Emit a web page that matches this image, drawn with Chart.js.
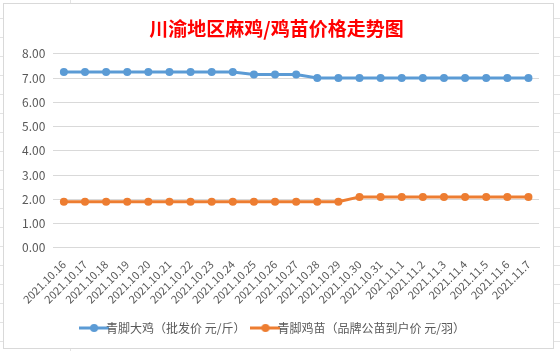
<!DOCTYPE html>
<html>
<head>
<meta charset="utf-8">
<script src="https://cdn.jsdelivr.net/npm/chart.js@4.4.0/dist/chart.umd.min.js"></script>
<style>
  html, body { margin: 0; padding: 0; }
  body {
    width: 560px; height: 351px; overflow: hidden; position: relative;
    background-color: #fff;
    background-image:
      repeating-linear-gradient(to bottom, transparent 0, transparent 18px, #e3e3e3 18px, #e3e3e3 19px),
      linear-gradient(to right, transparent 0, transparent 70px, #e3e3e3 70px, #e3e3e3 71px, transparent 71px);
  }
  #box {
    position: absolute; left: 3px; top: 3px; width: 549px; height: 344px;
    background: #fff; border: 1px solid #d9d9d9;
  }
  canvas { display: block; }
</style>
</head>
<body>
<div id="box"><canvas id="grafico" width="549" height="344"></canvas></div>
<script>
  const titolo = "川渝地区麻鸡/鸡苗价格走势图";
  const date = [
    "2021.10.16", "2021.10.17", "2021.10.18", "2021.10.19", "2021.10.20",
    "2021.10.21", "2021.10.22", "2021.10.23", "2021.10.24", "2021.10.25",
    "2021.10.26", "2021.10.27", "2021.10.28", "2021.10.29", "2021.10.30",
    "2021.10.31", "2021.11.1", "2021.11.2", "2021.11.3", "2021.11.4",
    "2021.11.5", "2021.11.6", "2021.11.7"
  ];
  const nomeDaji = "青脚大鸡（批发价 元/斤）";
  const prezziDaji = [7.25, 7.25, 7.25, 7.25, 7.25, 7.25, 7.25, 7.25, 7.25, 7.15,
    7.15, 7.15, 7.0, 7.0, 7.0, 7.0, 7.0, 7.0, 7.0, 7.0, 7.0, 7.0, 7.0];
  const nomeJimiao = "青脚鸡苗（品牌公苗到户价 元/羽）";
  const prezziJimiao = [1.9, 1.9, 1.9, 1.9, 1.9, 1.9, 1.9, 1.9, 1.9, 1.9,
    1.9, 1.9, 1.9, 1.9, 2.1, 2.1, 2.1, 2.1, 2.1, 2.1, 2.1, 2.1, 2.1];

  const blu = "#5B9BD5", arancio = "#ED7D31", grigio = "#595959";

  // icona della legenda: linea con pallino al centro
  function iconaLegenda(colore) {
    const c = document.createElement("canvas");
    c.width = 30; c.height = 10;
    const g = c.getContext("2d");
    g.strokeStyle = colore; g.lineWidth = 3;
    g.beginPath(); g.moveTo(0, 5); g.lineTo(30, 5); g.stroke();
    g.fillStyle = colore;
    g.beginPath(); g.arc(15, 5, 4, 0, Math.PI * 2); g.fill();
    return c;
  }

  const font = "'Microsoft YaHei', 'Noto Sans CJK SC', sans-serif";

  new Chart(document.getElementById("grafico").getContext("2d"), {
    type: "line",
    data: {
      labels: date,
      datasets: [
        {
          label: nomeDaji,
          data: prezziDaji,
          borderColor: blu,
          backgroundColor: blu,
          borderWidth: 3,
          pointRadius: 4,
          pointBorderWidth: 0,
          pointStyle: "circle",
        },
        {
          label: nomeJimiao,
          data: prezziJimiao,
          borderColor: arancio,
          backgroundColor: arancio,
          borderWidth: 3,
          pointRadius: 4,
          pointBorderWidth: 0,
          pointStyle: "circle",
        },
      ],
    },
    options: {
      responsive: false,
      animation: false,
      layout: { padding: { left: 10, right: 14, top: 0, bottom: 4 } },
      plugins: {
        title: {
          display: true,
          text: titolo,
          color: "#FF0000",
          font: { family: font, size: 19, weight: "bold" },
          padding: { top: 13, bottom: 14 },
        },
        legend: {
          position: "bottom",
          labels: {
            color: grigio,
            font: { family: font, size: 12 },
            usePointStyle: true,
            boxWidth: 30,
            padding: 14,
            generateLabels: (chart) =>
              chart.data.datasets.map((ds, i) => ({
                text: ds.label,
                fontColor: grigio,
                pointStyle: iconaLegenda(ds.borderColor),
                datasetIndex: i,
                lineWidth: 0,
              })),
          },
        },
        tooltip: { enabled: false },
      },
      scales: {
        x: {
          offset: true,
          grid: { display: false },
          border: { color: "#d9d9d9" },
          ticks: {
            color: grigio,
            font: { family: font, size: 11 },
            minRotation: 45,
            maxRotation: 45,
            autoSkip: false,
            padding: 2,
          },
        },
        y: {
          min: 0,
          max: 8,
          border: { display: false },
          grid: { color: "#d9d9d9", drawTicks: false },
          ticks: {
            stepSize: 1,
            color: grigio,
            font: { family: font, size: 12 },
            padding: 8,
            callback: (v) => v.toFixed(2),
          },
        },
      },
    },
  });
</script>
</body>
</html>
